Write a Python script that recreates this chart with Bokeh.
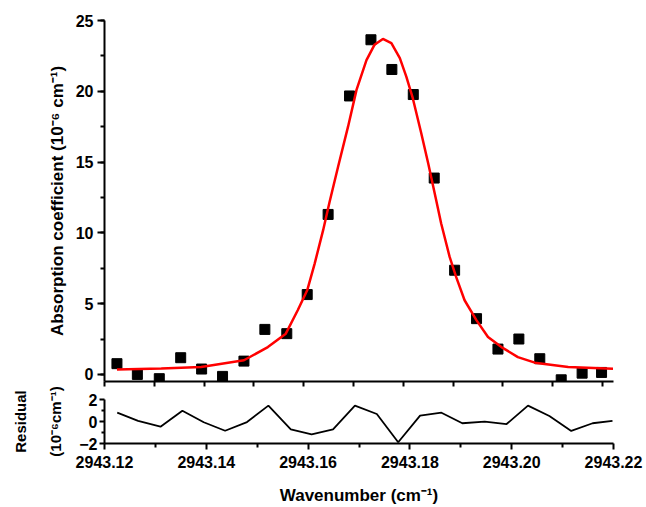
from bokeh.plotting import figure
from bokeh.layouts import column
from bokeh.models import (FixedTicker, SingleIntervalTicker, PrintfTickFormatter, Range1d)
from bokeh.embed import file_html
from bokeh.resources import INLINE

# measured data (wavenumber in cm^-1, absorption in 1e-6 cm^-1)
wavenumber = [2943.1225, 2943.1266, 2943.1310, 2943.1353, 2943.1395, 2943.1437,
              2943.1480, 2943.1522, 2943.1566, 2943.1607, 2943.1649, 2943.1692,
              2943.1735, 2943.1777, 2943.1820, 2943.1862, 2943.1903, 2943.1947,
              2943.1990, 2943.2032, 2943.2074, 2943.2117, 2943.2159, 2943.2198]
absorption = [0.76, 0.0, -0.30, 1.18, 0.38, -0.14, 0.94, 3.18, 2.88, 5.64, 11.3, 19.67,
              23.64, 21.54, 19.77, 13.87, 7.36, 3.94, 1.79, 2.50, 1.11, -0.38, 0.09, 0.14]
residual = [0.80, 0.05, -0.47, 0.98, -0.07, -0.84, -0.05, 1.44, -0.71, -1.16, -0.71, 1.44,
            0.68, -1.89, 0.53, 0.80, -0.16, -0.02, -0.23, 1.44, 0.50, -0.86, -0.16, 0.05]

# fitted profile
fit_x = [2943.1225, 2943.1314, 2943.1394, 2943.1480, 2943.1528, 2943.1564, 2943.1588,
         2943.1607, 2943.1622, 2943.1639, 2943.1652, 2943.1669, 2943.1689, 2943.1706,
         2943.1726, 2943.1742, 2943.1759, 2943.1776, 2943.1793, 2943.1806, 2943.1819,
         2943.1836, 2943.1850, 2943.1866, 2943.1876, 2943.1893, 2943.1906, 2943.1923,
         2943.1947, 2943.1970, 2943.1997, 2943.2030, 2943.2064, 2943.2131, 2943.2221]
fit_y = [0.35, 0.42, 0.52, 1.00, 1.93, 2.88, 4.53, 5.94, 7.83, 10.19, 12.2, 14.67, 17.5,
         20.1, 22.2, 23.28, 23.7, 23.4, 22.34, 21.04, 19.51, 17.03, 14.9, 12.31, 10.66,
         8.3, 6.89, 5.24, 3.82, 2.64, 1.93, 1.22, 0.83, 0.52, 0.40]

top_x_ticks = [2943.12, 2943.13, 2943.14, 2943.15, 2943.16, 2943.17, 2943.18,
               2943.19, 2943.20, 2943.21, 2943.22]
bottom_x_major = [2943.12, 2943.14, 2943.16, 2943.18, 2943.20, 2943.22]
bottom_x_minor = [2943.13, 2943.15, 2943.17, 2943.19, 2943.21]
res_y_major = [-2, 0, 2]
res_y_minor = [-1, 1]

FONT = "Liberation Sans"


def style_axis(ax, tick_out, minor_out, label_size="17px"):
    ax.axis_line_width = 2
    ax.axis_line_color = "black"
    ax.major_tick_line_width = 2
    ax.minor_tick_line_width = 2
    ax.major_tick_line_color = "black"
    ax.minor_tick_line_color = "black"
    ax.major_tick_in = 0
    ax.minor_tick_in = 0
    ax.major_tick_out = tick_out
    ax.minor_tick_out = minor_out
    ax.major_label_text_font = FONT
    ax.major_label_text_font_style = "bold"
    ax.major_label_text_font_size = "16px"
    ax.major_label_text_color = "black"
    ax.axis_label_text_font = FONT
    ax.axis_label_text_font_style = "bold"
    ax.axis_label_text_font_size = label_size
    ax.axis_label_text_color = "black"


# ---------- top panel ----------
p1 = figure(width=646, height=387, min_border_left=104, min_border_right=33,
            min_border_top=20, min_border_bottom=6,
            x_range=Range1d(2943.12, 2943.2222), y_range=Range1d(-0.5, 25),
            output_backend="svg", toolbar_location=None)
p1.grid.visible = False
p1.outline_line_color = None

p1.scatter(wavenumber, absorption, marker="square", size=10, color="black")
p1.line(fit_x, fit_y, color="red", line_width=2.5)

yax1 = p1.yaxis[0]
style_axis(yax1, 7, 4)
yax1.ticker = SingleIntervalTicker(interval=5, num_minor_ticks=2)
yax1.major_label_standoff = 4
yax1.axis_label = "Absorption coefficient (10\u207b\u2076 cm\u207b\u00b9)"
yax1.axis_label_standoff = 6

xax1 = p1.xaxis[0]
style_axis(xax1, 5, 0)
xax1.ticker = FixedTicker(ticks=top_x_ticks, minor_ticks=[])
xax1.major_label_text_font_size = "0px"
xax1.major_label_overrides = {t: "" for t in top_x_ticks}
xax1.major_label_standoff = 0

# ---------- residual panel ----------
p2 = figure(width=646, height=120, min_border_left=104, min_border_right=33,
            min_border_top=12, min_border_bottom=64,
            x_range=Range1d(2943.12, 2943.22), y_range=Range1d(-2, 2),
            output_backend="svg", toolbar_location=None)
p2.grid.visible = False
p2.outline_line_color = None

p2.line(wavenumber, residual, color="black", line_width=1.8)

yax2 = p2.yaxis[0]
style_axis(yax2, 5, 3, label_size="15px")
yax2.ticker = FixedTicker(ticks=res_y_major, minor_ticks=res_y_minor)
yax2.major_label_standoff = 2
yax2.axis_label = "Residual\n(10\u207b\u2076cm\u207b\u00b9)"
yax2.axis_label_text_line_height = 2.1
yax2.axis_label_standoff = 12

xax2 = p2.xaxis[0]
style_axis(xax2, 6, 4)
xax2.ticker = FixedTicker(ticks=bottom_x_major, minor_ticks=bottom_x_minor)
xax2.formatter = PrintfTickFormatter(format="%.2f")
xax2.major_label_standoff = 6
xax2.axis_label = "Wavenumber (cm\u207b\u00b9)"
xax2.axis_label_standoff = 15

layout = column(p1, p2, spacing=0)

open("out.html", "w").write(file_html(layout, INLINE))
